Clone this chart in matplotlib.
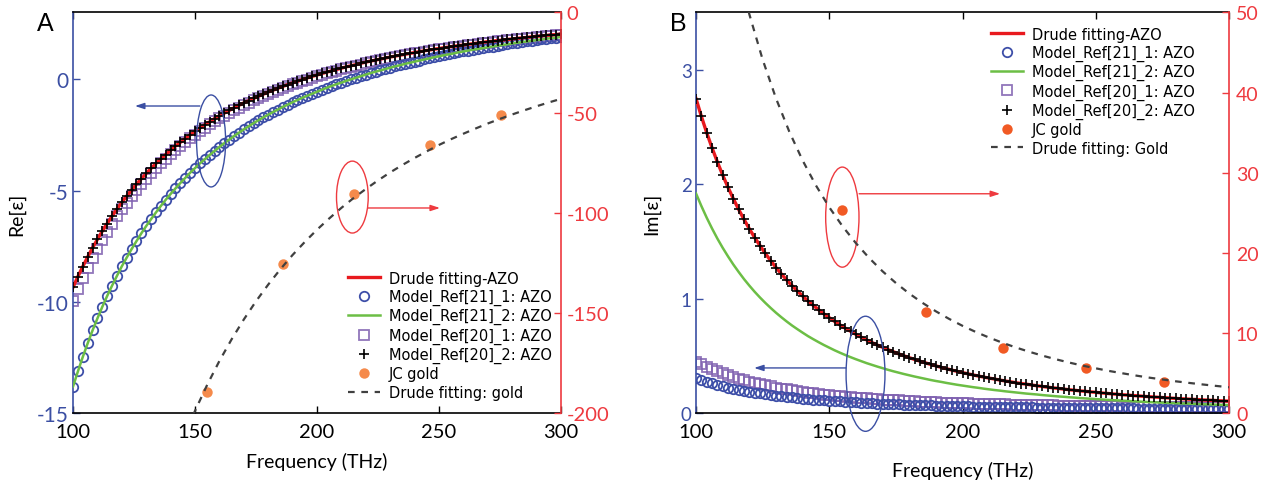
import matplotlib
matplotlib.use('Agg')
import matplotlib.pyplot as plt
from matplotlib.patches import Ellipse

plt.rcParams['axes.unicode_minus'] = False
plt.rcParams['font.family'] = ['Lato', 'DejaVu Sans']

# ---------------- data ----------------
freq = list(range(100, 301, 2))  # THz

# Panel A : Re[eps]
re_drude_azo = [-9.34, -8.86, -8.41, -7.98, -7.57, -7.19, -6.82, -6.48, -6.15, -5.83,
                -5.53, -5.25, -4.98, -4.71, -4.47, -4.23, -4.00, -3.78, -3.58, -3.38,
                -3.19, -3.00, -2.83, -2.66, -2.50, -2.34, -2.19, -2.04, -1.91, -1.77,
                -1.64, -1.52, -1.40, -1.28, -1.17, -1.06, -0.96, -0.86, -0.76, -0.67,
                -0.57, -0.49, -0.40, -0.32, -0.24, -0.16, -0.09, -0.01, 0.06, 0.13,
                0.19, 0.26, 0.32, 0.38, 0.44, 0.50, 0.56, 0.61, 0.66, 0.72,
                0.77, 0.82, 0.86, 0.91, 0.95, 1.00, 1.04, 1.08, 1.12, 1.16,
                1.20, 1.24, 1.28, 1.31, 1.35, 1.38, 1.42, 1.45, 1.48, 1.51,
                1.54, 1.57, 1.60, 1.63, 1.66, 1.69, 1.71, 1.74, 1.76, 1.79,
                1.81, 1.84, 1.86, 1.88, 1.91, 1.93, 1.95, 1.97, 1.99, 2.01, 2.03]
re_ref21 = [-13.80, -13.12, -12.47, -11.86, -11.28, -10.74, -10.22, -9.73, -9.27, -8.83,
            -8.40, -8.01, -7.63, -7.27, -6.92, -6.59, -6.28, -5.98, -5.69, -5.41,
            -5.15, -4.90, -4.66, -4.43, -4.20, -3.99, -3.78, -3.59, -3.40, -3.22,
            -3.04, -2.87, -2.71, -2.55, -2.40, -2.25, -2.11, -1.97, -1.84, -1.71,
            -1.59, -1.47, -1.36, -1.24, -1.14, -1.03, -0.93, -0.83, -0.74, -0.65,
            -0.56, -0.47, -0.38, -0.30, -0.22, -0.15, -0.07, 0.00, 0.07, 0.14,
            0.21, 0.28, 0.34, 0.40, 0.46, 0.52, 0.58, 0.63, 0.69, 0.74,
            0.79, 0.84, 0.89, 0.94, 0.99, 1.03, 1.08, 1.12, 1.16, 1.21,
            1.25, 1.29, 1.33, 1.36, 1.40, 1.44, 1.47, 1.51, 1.54, 1.57,
            1.61, 1.64, 1.67, 1.70, 1.73, 1.76, 1.79, 1.82, 1.85, 1.87, 1.90]
re_ref20_1 = [-9.94, -9.42, -8.93, -8.47, -8.03, -7.61, -7.22, -6.85, -6.49, -6.16,
              -5.84, -5.54, -5.25, -4.97, -4.71, -4.46, -4.22, -3.99, -3.77, -3.56,
              -3.36, -3.17, -2.99, -2.81, -2.64, -2.48, -2.32, -2.17, -2.03, -1.89,
              -1.76, -1.63, -1.50, -1.38, -1.27, -1.16, -1.05, -0.95, -0.85, -0.75,
              -0.66, -0.57, -0.48, -0.39, -0.31, -0.23, -0.15, -0.08, -0.01, 0.06,
              0.13, 0.20, 0.26, 0.32, 0.39, 0.44, 0.50, 0.56, 0.61, 0.66,
              0.71, 0.76, 0.81, 0.86, 0.91, 0.95, 0.99, 1.04, 1.08, 1.12,
              1.16, 1.20, 1.23, 1.27, 1.31, 1.34, 1.37, 1.41, 1.44, 1.47,
              1.50, 1.53, 1.56, 1.59, 1.62, 1.65, 1.67, 1.70, 1.73, 1.75,
              1.78, 1.80, 1.82, 1.85, 1.87, 1.89, 1.91, 1.94, 1.96, 1.98, 2.00]

# Panel B : Im[eps]
im_drude_azo = [2.747, 2.593, 2.450, 2.318, 2.195, 2.080, 1.973, 1.873, 1.780, 1.693,
                1.611, 1.535, 1.464, 1.396, 1.333, 1.273, 1.217, 1.165, 1.115, 1.068,
                1.024, 0.981, 0.942, 0.904, 0.868, 0.835, 0.802, 0.772, 0.743, 0.716,
                0.689, 0.664, 0.641, 0.618, 0.596, 0.576, 0.556, 0.538, 0.519, 0.502,
                0.486, 0.470, 0.455, 0.441, 0.427, 0.414, 0.401, 0.389, 0.377, 0.366,
                0.355, 0.345, 0.335, 0.325, 0.316, 0.307, 0.299, 0.290, 0.282, 0.275,
                0.267, 0.260, 0.254, 0.247, 0.240, 0.234, 0.228, 0.222, 0.217, 0.211,
                0.206, 0.201, 0.196, 0.192, 0.187, 0.183, 0.178, 0.174, 0.170, 0.166,
                0.162, 0.159, 0.155, 0.152, 0.148, 0.145, 0.142, 0.139, 0.136, 0.133,
                0.130, 0.127, 0.125, 0.122, 0.120, 0.117, 0.115, 0.113, 0.110, 0.108, 0.106]
im_ref21_2 = [1.919, 1.810, 1.708, 1.614, 1.526, 1.445, 1.370, 1.299, 1.234, 1.172,
              1.115, 1.061, 1.011, 0.964, 0.920, 0.878, 0.839, 0.802, 0.767, 0.735,
              0.704, 0.674, 0.647, 0.621, 0.596, 0.573, 0.550, 0.529, 0.509, 0.490,
              0.472, 0.455, 0.438, 0.423, 0.408, 0.394, 0.380, 0.367, 0.355, 0.343,
              0.332, 0.321, 0.311, 0.301, 0.291, 0.282, 0.274, 0.265, 0.257, 0.249,
              0.242, 0.235, 0.228, 0.222, 0.215, 0.209, 0.203, 0.198, 0.192, 0.187,
              0.182, 0.177, 0.172, 0.168, 0.164, 0.159, 0.155, 0.151, 0.147, 0.144,
              0.140, 0.137, 0.133, 0.130, 0.127, 0.124, 0.121, 0.118, 0.115, 0.113,
              0.110, 0.108, 0.105, 0.103, 0.100, 0.098, 0.096, 0.094, 0.092, 0.090,
              0.088, 0.086, 0.085, 0.083, 0.081, 0.079, 0.078, 0.076, 0.075, 0.073, 0.072]
im_ref21_1 = [0.306, 0.290, 0.275, 0.261, 0.248, 0.236, 0.225, 0.215, 0.206, 0.197,
              0.188, 0.180, 0.173, 0.166, 0.160, 0.154, 0.148, 0.143, 0.138, 0.133,
              0.128, 0.124, 0.120, 0.116, 0.113, 0.109, 0.106, 0.103, 0.100, 0.097,
              0.095, 0.092, 0.090, 0.088, 0.085, 0.083, 0.081, 0.080, 0.078, 0.076,
              0.074, 0.073, 0.071, 0.070, 0.068, 0.067, 0.066, 0.065, 0.064, 0.062,
              0.061, 0.060, 0.059, 0.058, 0.057, 0.057, 0.056, 0.055, 0.054, 0.053,
              0.053, 0.052, 0.051, 0.051, 0.050, 0.049, 0.049, 0.048, 0.048, 0.047,
              0.047, 0.046, 0.046, 0.045, 0.045, 0.044, 0.044, 0.044, 0.043, 0.043,
              0.042, 0.042, 0.042, 0.041, 0.041, 0.041, 0.040, 0.040, 0.040, 0.039,
              0.039, 0.039, 0.039, 0.038, 0.038, 0.038, 0.038, 0.037, 0.037, 0.037, 0.037]
im_ref20_1 = [0.451, 0.427, 0.405, 0.384, 0.365, 0.348, 0.331, 0.316, 0.302, 0.288,
              0.276, 0.264, 0.254, 0.243, 0.234, 0.225, 0.216, 0.208, 0.201, 0.194,
              0.187, 0.181, 0.175, 0.169, 0.164, 0.159, 0.154, 0.149, 0.145, 0.141,
              0.137, 0.133, 0.130, 0.127, 0.123, 0.120, 0.117, 0.115, 0.112, 0.109,
              0.107, 0.105, 0.102, 0.100, 0.098, 0.096, 0.094, 0.093, 0.091, 0.089,
              0.088, 0.086, 0.085, 0.083, 0.082, 0.081, 0.079, 0.078, 0.077, 0.076,
              0.075, 0.074, 0.073, 0.072, 0.071, 0.070, 0.069, 0.068, 0.067, 0.067,
              0.066, 0.065, 0.064, 0.064, 0.063, 0.062, 0.062, 0.061, 0.060, 0.060,
              0.059, 0.059, 0.058, 0.058, 0.057, 0.057, 0.056, 0.056, 0.055, 0.055,
              0.055, 0.054, 0.054, 0.053, 0.053, 0.053, 0.052, 0.052, 0.052, 0.051, 0.051]

# Gold (right axes)
jc_freq = [154.8, 186.2, 215.2, 246.5, 275.6]
jc_re = [-189.5, -125.5, -90.6, -66.1, -51.1]
jc_im = [25.4, 12.6, 8.2, 5.7, 3.9]

gold_fit_freq_re = list(range(145, 301, 5))
gold_fit_re = [-213.2, -198.8, -185.8, -173.9, -163.1, -153.2, -144.1, -135.8, -128.1, -121.0,
               -114.5, -108.4, -102.8, -97.5, -92.6, -88.1, -83.8, -79.8, -76.1, -72.6,
               -69.3, -66.1, -63.2, -60.5, -57.9, -55.4, -53.1, -50.9, -48.8, -46.8,
               -44.9, -43.1]
gold_fit_freq_im = list(range(115, 301, 5))
gold_fit_im = [56.44, 49.78, 44.12, 39.29, 35.13, 31.54, 28.42, 25.70, 23.32, 21.22,
               19.36, 17.71, 16.25, 14.94, 13.77, 12.72, 11.77, 10.91, 10.14, 9.44,
               8.80, 8.21, 7.68, 7.19, 6.74, 6.33, 5.95, 5.61, 5.28, 4.99,
               4.71, 4.45, 4.22, 3.99, 3.79, 3.60, 3.42, 3.25]

xticks = [100, 150, 200, 250, 300]
labels_A = ['Drude fitting-AZO', 'Model_Ref[21]_1: AZO', 'Model_Ref[21]_2: AZO',
            'Model_Ref[20]_1: AZO', 'Model_Ref[20]_2: AZO', 'JC gold', 'Drude fitting: gold']
labels_B = ['Drude fitting-AZO', 'Model_Ref[21]_1: AZO', 'Model_Ref[21]_2: AZO',
            'Model_Ref[20]_1: AZO', 'Model_Ref[20]_2: AZO', 'JC gold', 'Drude fitting: Gold']

# ---------------- styles ----------------
BLUE = '#3B4FA3'
RED_AX = '#EE3A3F'
RED = '#E8191E'
GREEN = '#6CBE45'
CIRC = '#3D4EA8'
SQ = '#7E5FAF'
DASH = '#404040'

fig = plt.figure(figsize=(12.72, 4.85), dpi=100)
axA = fig.add_axes([0.0574, 0.1458, 0.3836, 0.8264])
axB = fig.add_axes([0.5472, 0.1458, 0.4190, 0.8264])


def style(ax, ax2, lsize, rsize, lpad, rpad):
    ax.set_xlim(100, 300)
    ax.set_xticks(xticks)
    ax.tick_params(axis='x', direction='in', top=True, length=5, width=1,
                   labelsize=14.5, pad=7, colors='black')
    ax.tick_params(axis='y', direction='in', left=True, right=False, length=5,
                   width=1, labelsize=lsize, pad=lpad, colors=BLUE)
    ax2.tick_params(axis='y', direction='in', right=True, left=False, length=5,
                    width=1, labelsize=rsize, pad=rpad, colors=RED_AX)
    for s in ['top', 'bottom']:
        ax.spines[s].set_color('black')
        ax.spines[s].set_linewidth(1.2)
        ax2.spines[s].set_visible(False)
    ax.spines['left'].set_color(BLUE)
    ax.spines['left'].set_linewidth(1.2)
    ax.spines['right'].set_visible(False)
    ax2.spines['left'].set_visible(False)
    ax2.spines['right'].set_color(RED_AX)
    ax2.spines['right'].set_linewidth(1.2)


def draw(ax, ax2, y_red, y_circ, y_green, y_sq, y_plus, jc_y, fit_x, fit_y, jc_col):
    h_sq, = ax.plot(freq, y_sq, 's', mfc='none', mec=SQ, ms=6.6, mew=1.3, alpha=0.85, zorder=2)
    h_circ, = ax.plot(freq, y_circ, 'o', mfc='none', mec=CIRC, ms=6.8, mew=1.3, zorder=2)
    h_green, = ax.plot(freq, y_green, '-', color=GREEN, lw=1.8, zorder=3)
    h_red, = ax.plot(freq, y_red, '-', color=RED, lw=2.4, zorder=4)
    h_plus, = ax.plot(freq, y_plus, '+', color='black', ms=7.5, mew=1.2, zorder=5)
    h_jc, = ax2.plot(jc_freq, jc_y, 'o', color=jc_col, ms=7.5, mew=0, zorder=3)
    h_fit, = ax2.plot(fit_x, fit_y, '--', color=DASH, lw=1.6, dashes=(3, 3), zorder=4)
    return [h_red, h_circ, h_green, h_sq, h_plus, h_jc, h_fit]


legend_kw = dict(loc='upper left', frameon=False, borderpad=0, borderaxespad=0,
                 handlelength=2.2, handletextpad=0.6, labelspacing=0.22, numpoints=1,
                 prop={'family': 'DejaVu Sans', 'size': 10.5})

# ---------------- Panel A ----------------
axA2 = axA.twinx()
axA2.set_position(axA.get_position())
handlesA = draw(axA, axA2, re_drude_azo, re_ref21, re_ref21, re_ref20_1, re_drude_azo,
                jc_re, gold_fit_freq_re, gold_fit_re, '#F58A4B')
axA.set_ylim(-15, 3)
axA.set_yticks([-15, -10, -5, 0])
axA2.set_ylim(-200, 0)
axA2.set_yticks([-200, -150, -100, -50, 0])
style(axA, axA2, 15, 14.5, 3, 4)
axA.set_xlabel('Frequency (THz)', fontsize=14)
axA.xaxis.set_label_coords(0.5, -0.097)
axA.set_ylabel('Re[ε]', fontsize=14)
axA.yaxis.set_label_coords(-0.098, 0.5)
axA2.legend(handlesA, labels_A, bbox_to_anchor=(0.563, 0.356), **legend_kw)

# annotations A
axA.add_patch(Ellipse((156.6, -2.77), 11.9, 4.13, fill=False, ec=BLUE, lw=1.0, zorder=6))
axA.annotate('', xy=(125.4, -1.20), xytext=(152.0, -1.20),
             arrowprops=dict(arrowstyle='-|>,head_length=0.55,head_width=0.18',
                             color=BLUE, lw=1.0, shrinkA=0, shrinkB=0), zorder=6)
axA.add_patch(Ellipse((214.5, -5.29), 13.0, 3.23, fill=False, ec=RED_AX, lw=1.0, zorder=6))
axA.annotate('', xy=(250.4, -5.78), xytext=(220.9, -5.78),
             arrowprops=dict(arrowstyle='-|>,head_length=0.55,head_width=0.18',
                             color=RED_AX, lw=1.0, shrinkA=0, shrinkB=0), zorder=6)

# ---------------- Panel B ----------------
axB2 = axB.twinx()
axB2.set_position(axB.get_position())
handlesB = draw(axB, axB2, im_drude_azo, im_ref21_1, im_ref21_2, im_ref20_1, im_drude_azo,
                jc_im, gold_fit_freq_im, gold_fit_im, '#F15A24')
axB.set_ylim(0, 3.5)
axB.set_yticks([0, 1, 2, 3])
axB2.set_ylim(0, 50)
axB2.set_yticks([0, 10, 20, 30, 40, 50])
style(axB, axB2, 13.5, 14, 3, 5)
axB.set_xlabel('Frequency (THz)', fontsize=14)
axB.xaxis.set_label_coords(0.5, -0.12)
axB.set_ylabel('Im[ε]', fontsize=14)
axB.yaxis.set_label_coords(-0.068, 0.5)
axB2.legend(handlesB, labels_B, bbox_to_anchor=(0.553, 0.965), **legend_kw)

axB.add_patch(Ellipse((154.9, 1.713), 12.5, 0.874, fill=False, ec=RED_AX, lw=1.0, zorder=6))
axB.annotate('', xy=(214.1, 1.917), xytext=(161.2, 1.917),
             arrowprops=dict(arrowstyle='-|>,head_length=0.55,head_width=0.18',
                             color=RED_AX, lw=1.0, shrinkA=0, shrinkB=0), zorder=6)
axB.add_patch(Ellipse((163.6, 0.345), 14.6, 1.005, fill=False, ec=BLUE, lw=1.0,
                      zorder=6, clip_on=False))
axB.annotate('', xy=(121.8, 0.396), xytext=(156.3, 0.396),
             arrowprops=dict(arrowstyle='-|>,head_length=0.55,head_width=0.18',
                             color=BLUE, lw=1.0, shrinkA=0, shrinkB=0), zorder=6)

# panel letters
fig.text(37 / 1272, 1 - 31 / 485, 'A', fontsize=18, family='Liberation Sans',
         ha='left', va='baseline')
fig.text(670 / 1272, 1 - 31 / 485, 'B', fontsize=18, family='Liberation Sans',
         ha='left', va='baseline')

fig.savefig('out.png', dpi=100)
